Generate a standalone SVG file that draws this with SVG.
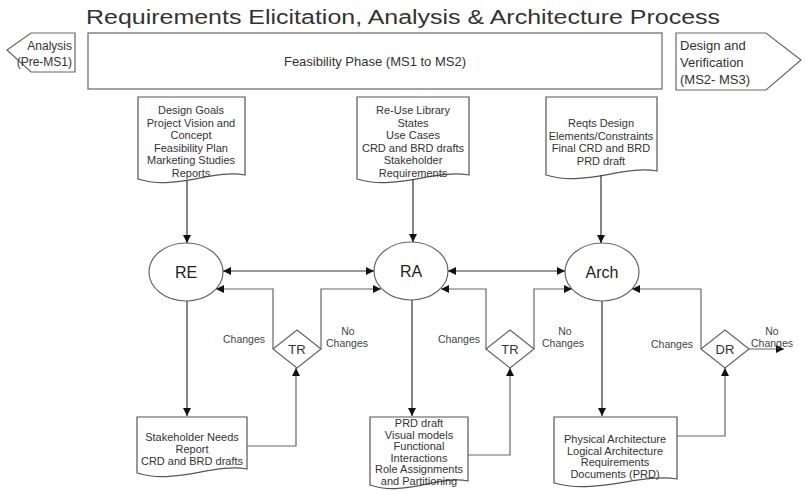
<svg xmlns="http://www.w3.org/2000/svg" width="806" height="491" viewBox="0 0 806 491">
<defs>
<marker id="ah" viewBox="0 0 10 10" refX="10" refY="5" markerWidth="8" markerHeight="8" markerUnits="userSpaceOnUse" orient="auto-start-reverse">
<path d="M0,0 L10,5 L0,10 Z" fill="#111"/>
</marker>
<style>
text{font-family:"Liberation Sans",Arial,sans-serif;fill:#333}
.doc{fill:#fff;stroke:#555;stroke-width:1.2}
.box{fill:#fff;stroke:#666;stroke-width:1.2}
.dt{font-size:11px;text-anchor:middle}
.lbl{font-size:10.5px;fill:#444}
.node{font-size:16px;text-anchor:middle;fill:#222}
.dia{font-size:13px;text-anchor:middle;fill:#333}
.c{fill:none;stroke:#333;stroke-width:1.2}
.r{fill:none;stroke:#666;stroke-width:1.2}
</style>
</defs>
<rect width="806" height="491" fill="#fff"/>
<text x="403" y="24" font-size="20" text-anchor="middle" textLength="634" lengthAdjust="spacingAndGlyphs" fill="#222">Requirements Elicitation, Analysis &amp; Architecture Process</text>

<g id="analysis">
<polygon class="box" points="7,50 31,33 75,33 75,72 31,72"/>
<text x="72" y="50" font-size="12" text-anchor="end">Analysis</text>
<text x="72" y="66" font-size="12" text-anchor="end">(Pre-MS1)</text>
</g>
<g id="feasibility">
<rect class="box" x="88" y="33" width="574" height="56"/>
<text x="375" y="66" font-size="13" text-anchor="middle">Feasibility Phase (MS1 to MS2)</text>
</g>
<g id="design">
<polygon class="box" points="676,33 766,33 801,60 766,90 676,90"/>
<text x="680" y="50" font-size="13">Design and</text>
<text x="680" y="67" font-size="13">Verification</text>
<text x="680" y="84" font-size="13">(MS2- MS3)</text>
</g>

<g id="doc1">
<path class="doc" d="M138,97 H245 V175 C213,169 175,191 138,179 Z"/>
<text class="dt" x="191" y="114">Design Goals</text>
<text class="dt" x="191" y="126.5">Project Vision and</text>
<text class="dt" x="191" y="139">Concept</text>
<text class="dt" x="191" y="151.5">Feasibility Plan</text>
<text class="dt" x="191" y="164">Marketing Studies</text>
<text class="dt" x="191" y="176.5">Reports</text>
</g>
<g id="doc2">
<path class="doc" d="M357,97 H469 V175 C435,169 396,191 357,179 Z"/>
<text class="dt" x="413" y="114">Re-Use Library</text>
<text class="dt" x="413" y="126.5">States</text>
<text class="dt" x="413" y="139">Use Cases</text>
<text class="dt" x="413" y="151.5">CRD and BRD drafts</text>
<text class="dt" x="413" y="164">Stakeholder</text>
<text class="dt" x="413" y="176.5">Requirements</text>
</g>
<g id="doc3">
<path class="doc" d="M546,97 H657 V171 C624,165 585,187 546,175 Z"/>
<text class="dt" x="601" y="127">Reqts Design</text>
<text class="dt" x="601" y="139.5">Elements/Constraints</text>
<text class="dt" x="601" y="152">Final CRD and BRD</text>
<text class="dt" x="601" y="164.5">PRD draft</text>
</g>

<g id="RE">
<ellipse class="box" cx="186" cy="272" rx="37" ry="29"/>
<text class="node" x="186" y="278">RE</text>
</g>
<g id="RA">
<ellipse class="box" cx="411" cy="271" rx="37" ry="29"/>
<text class="node" x="411" y="277">RA</text>
</g>
<g id="Arch">
<ellipse class="box" cx="602" cy="272" rx="37" ry="29"/>
<text class="node" x="602" y="278">Arch</text>
</g>

<g id="TR1">
<polygon class="box" points="297,330 321,349 297,368 273,349"/>
<text class="dia" x="297" y="354">TR</text>
</g>
<g id="TR2">
<polygon class="box" points="510,330 534,349 510,368 486,349"/>
<text class="dia" x="510" y="354">TR</text>
</g>
<g id="DR">
<polygon class="box" points="725,330 749,349 725,368 701,349"/>
<text class="dia" x="725" y="354">DR</text>
</g>

<g id="doc4">
<path class="doc" d="M137,417 H247 V469 C214,463 175,485 137,473 Z"/>
<text class="dt" x="192" y="441">Stakeholder Needs</text>
<text class="dt" x="192" y="453">Report</text>
<text class="dt" x="192" y="465">CRD and BRD drafts</text>
</g>
<g id="doc5">
<path class="doc" d="M370,417 H468 V481 C439,475 404,497 370,485 Z"/>
<text class="dt" x="419" y="427">PRD draft</text>
<text class="dt" x="419" y="438.5">Visual models</text>
<text class="dt" x="419" y="450">Functional</text>
<text class="dt" x="419" y="461.5">Interactions</text>
<text class="dt" x="419" y="473">Role Assignments</text>
<text class="dt" x="419" y="484.5">and Partitioning</text>
</g>
<g id="doc6">
<path class="doc" d="M554,417 H677 V479 C640,473 597,495 554,483 Z"/>
<text class="dt" x="615" y="443">Physical Architecture</text>
<text class="dt" x="615" y="454.5">Logical Architecture</text>
<text class="dt" x="615" y="466">Requirements</text>
<text class="dt" x="615" y="477.5">Documents (PRD)</text>
</g>

<g id="connectors">
<line class="c" x1="187" y1="180" x2="187" y2="243" marker-end="url(#ah)"/>
<line class="c" x1="413" y1="179" x2="413" y2="242" marker-end="url(#ah)"/>
<line class="c" x1="601" y1="175" x2="601" y2="243" marker-end="url(#ah)"/>
<line class="c" x1="223" y1="271" x2="374" y2="271" marker-start="url(#ah)" marker-end="url(#ah)"/>
<line class="c" x1="448" y1="271" x2="565" y2="271" marker-start="url(#ah)" marker-end="url(#ah)"/>
<polyline class="r" points="273,349 273,289 216,289" marker-end="url(#ah)"/>
<polyline class="r" points="321,349 321,289 381,289" marker-end="url(#ah)"/>
<polyline class="r" points="486,349 486,289 441,289" marker-end="url(#ah)"/>
<polyline class="r" points="534,349 534,289 572,289" marker-end="url(#ah)"/>
<polyline class="r" points="701,349 701,289 632,289" marker-end="url(#ah)"/>
<line class="r" x1="749" y1="349" x2="784" y2="349" marker-end="url(#ah)"/>
<line class="c" x1="187" y1="301" x2="187" y2="416" marker-end="url(#ah)"/>
<line class="c" x1="412" y1="300" x2="412" y2="416" marker-end="url(#ah)"/>
<line class="c" x1="602" y1="301" x2="602" y2="416" marker-end="url(#ah)"/>
<polyline class="r" points="247,446 296,446 296,368" marker-end="url(#ah)"/>
<polyline class="r" points="468,455 510,455 510,368" marker-end="url(#ah)"/>
<polyline class="r" points="677,436 725,436 725,368" marker-end="url(#ah)"/>
<text class="lbl" x="265" y="343" text-anchor="end">Changes</text>
<text class="lbl" x="348" y="335" text-anchor="middle">No</text>
<text class="lbl" x="347" y="347" text-anchor="middle">Changes</text>
<text class="lbl" x="480" y="343" text-anchor="end">Changes</text>
<text class="lbl" x="565" y="335" text-anchor="middle">No</text>
<text class="lbl" x="563" y="347" text-anchor="middle">Changes</text>
<text class="lbl" x="693" y="348" text-anchor="end">Changes</text>
<text class="lbl" x="772" y="335" text-anchor="middle">No</text>
<text class="lbl" x="772" y="347" text-anchor="middle">Changes</text>
</g>
</svg>
